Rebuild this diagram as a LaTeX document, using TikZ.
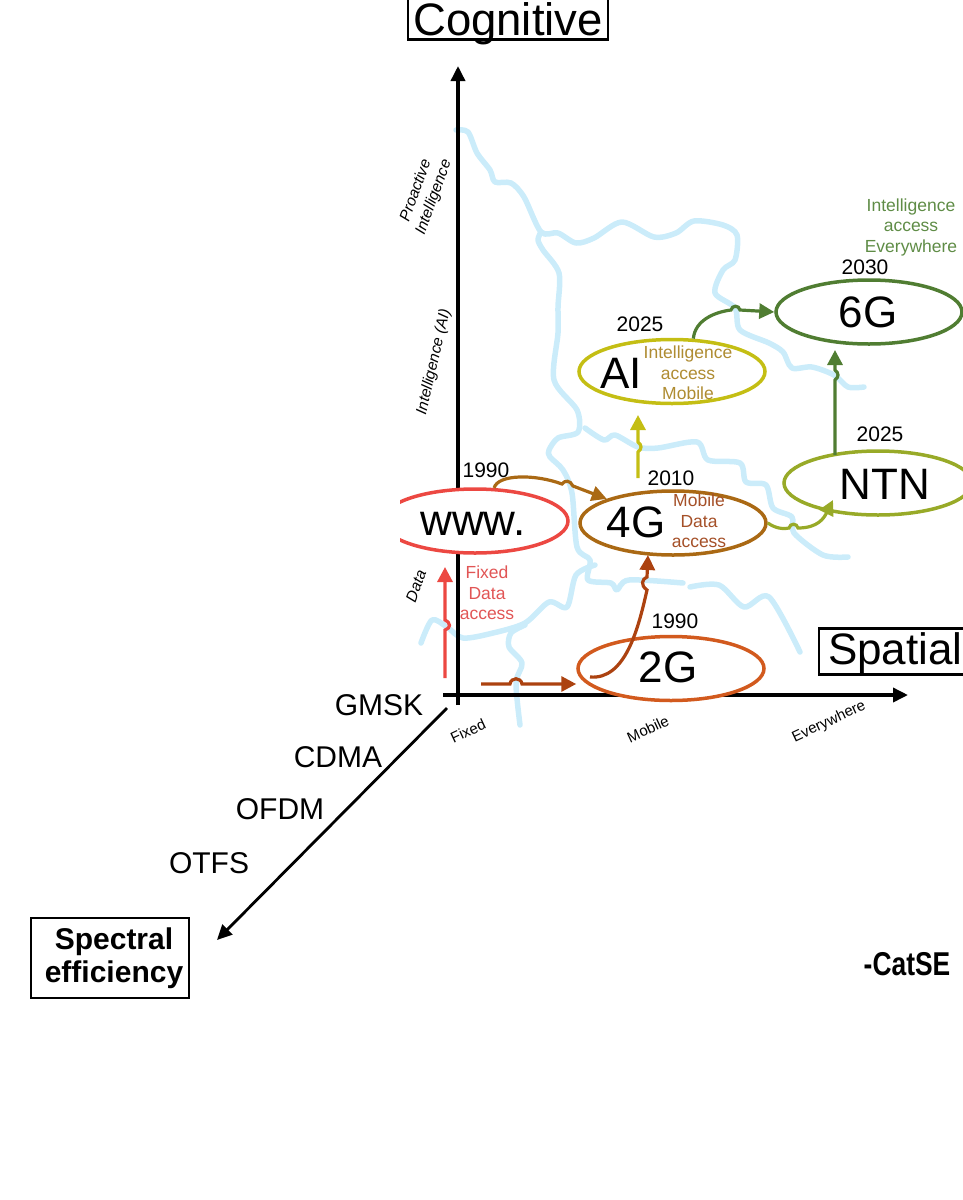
\documentclass[tikz,border=0pt]{standalone}
\usepackage{fontspec}
\setmainfont{Liberation Sans}
\usetikzlibrary{arrows.meta, positioning, shapes.geometric}
\definecolor{rivercol}{RGB}{203,236,250}
\definecolor{wwwcol}{RGB}{236,72,66}
\definecolor{fourgcol}{RGB}{170,105,20}
\definecolor{twogcol}{RGB}{210,90,30}
\definecolor{aicol}{RGB}{196,190,20}
\definecolor{sixgcol}{RGB}{80,125,50}
\definecolor{ntncol}{RGB}{152,170,40}
\definecolor{hopcol}{RGB}{172,66,16}
\definecolor{fixedtxt}{RGB}{225,85,85}
\definecolor{mobiletxt}{RGB}{165,80,40}
\definecolor{aitxt}{RGB}{175,140,50}
\definecolor{evertxt}{RGB}{95,140,70}

\begin{document}
\begin{tikzpicture}[
    x=1pt, y=-1pt,
    river/.style={draw=rivercol, line width=5.5pt, line cap=round, line join=round},
    axis/.style={-{Triangle[length=15pt,width=14pt]}, line width=3.5pt},
    gen/.style={draw, ellipse, line width=3.5pt, fill=white, minimum width=186pt,
                minimum height=64pt, inner sep=0pt, font=\fontsize{44}{46}\selectfont},
    arrow/.style={-{Triangle[length=15pt,width=15pt]}, line width=3.2pt},
    year/.style={font=\fontsize{21}{23}\selectfont, inner sep=0pt},
    big/.style={font=\fontsize{44}{46}\selectfont, inner sep=0pt},
    note/.style={font=\fontsize{17.5}{20.5}\selectfont, align=center, inner sep=0pt},
    tick/.style={font=\fontsize{15.5}{19}\selectfont\itshape, align=center, inner sep=0pt},
    flat/.style={font=\fontsize{15}{17}\selectfont, inner sep=0pt, rotate=25},
    wave/.style={font=\fontsize{30}{32}\selectfont, inner sep=0pt},
    title/.style={draw, line width=2.2pt, font=\fontsize{45.5}{48}\selectfont, inner xsep=5pt,
                  inner ysep=2pt}
  ]
  \useasboundingbox (0,0) rectangle (962,1200);

  \draw[river] plot[smooth, tension=.5] coordinates {(456,130) (468,132) (477,153) (490,170) (495,182) (511,183) (524,197) (541,232) (558,233) (576,243) (594,238) (622,222) (654,237) (676,233) (694,221) (723,225) (737,235) (735,260) (723,270) (715,293) (735,308) (740,330) (769,343) (783,352) (792,368) (812,367) (834,375) (848,387) (864,387)};
  \draw[river] plot[smooth, tension=.5] coordinates {(541,232) (538,240) (543,250) (559,273) (558,307) (558,333) (554,380) (577,410) (578,432) (558,438) (549,450) (550,457) (563,470) (572,493) (577,547) (590,560) (588,580) (611,583) (617,590) (629,580) (683,583)};
  \draw[river] plot[smooth, tension=.5] coordinates {(690,587) (719,585) (744,607) (769,597) (800,652)};
  \draw[river] plot[smooth, tension=.5] coordinates {(585,428) (604,440) (615,435) (638,447) (658,448) (697,442) (708,460) (740,463) (746,482) (766,485) (773,508) (792,517) (794,533) (823,555) (848,557)};
  \draw[river] plot[smooth, tension=.5] coordinates {(595,565) (576,575) (567,607) (549,602) (525,623) (493,633) (463,638) (447,627) (432,620) (421,643)};
  \draw[river] plot[smooth, tension=.5] coordinates {(525,625) (511,633) (509,647) (522,663) (516,683) (520,725)};

  \coordinate (origin) at (458,705);
  \coordinate (cogtip) at (458,66);
  \coordinate (spatstart) at (443,695);
  \coordinate (spattip) at (908,695);
  \coordinate (specstart) at (447,708);
  \coordinate (spectip) at (217,940);
  \draw[axis] (origin) -- (cogtip);
  \draw[axis] (spatstart) -- (spattip);
  \draw[axis, line width=2.8pt] (specstart) -- (spectip);

  \begin{scope}
    \clip (400,0) rectangle (962,1200);
    \node[gen, draw=wwwcol] (www) at (475,521) {};
  \end{scope}
  \node[big] (wwwtxt) at (473,524) {www.};
  \node[gen, draw=fourgcol] (fourg) at (673,523) {};
  \node[gen, draw=twogcol, below=78pt of fourg, xshift=-2pt] (twog) {};
  \node[gen, draw=aicol, above=84pt of fourg, xshift=-1pt] (ai) {};
  \node[gen, draw=sixgcol] (sixg) at (869,312) {};
  \node[gen, draw=ntncol, minimum width=188pt] (ntn) at (878,483) {};

  \node[big] (fourgtxt) at (636,522) {4G};
  \node[big] (twogtxt) at (668,667) {2G};
  \node[big] (aitxt) at (621,373) {AI};
  \node[big] (sixgtxt) at (868,312) {6G};
  \node[big] (ntntxt) at (885,484) {NTN};

  \coordinate (fixedstart) at (445,678);
  \coordinate (fixedtip) at (445,567);
  \coordinate (mobstart) at (481,684);
  \coordinate (aistart) at (638,478);
  \coordinate (aitip) at (638,415);
  \coordinate (twostart) at (590,677);
  \coordinate (fourtip) at (648,555);
  \coordinate (ntnstart) at (835,455);
  \coordinate (sixtip) at (835,350);
  \coordinate (ntntip) at (833,500);

  \draw[arrow, wwwcol] (fixedstart) -- (445,630) .. controls (451,628) and (451,623) .. (445,620) -- (fixedtip);
  \draw[arrow, hopcol] (mobstart) -- (510,684) .. controls (511,677) and (521,677) .. (522,684) -- (twog.west |- mobstart);
  \draw[arrow, hopcol] (twostart) .. controls (625,680) and (638,630) .. (647,590) .. controls (640,585) and (642,579) .. (647,577) -- (fourtip);
  \draw[arrow, fourgcol] (www.60) .. controls (498,474) and (535,474) .. (562,484) .. controls (565,480) and (570,480) .. (573,486) -- (fourg.160);
  \draw[arrow, aicol] (aistart) -- (638,452) .. controls (642,449) and (642,445) .. (638,442) -- (aitip);
  \draw[arrow, ntncol] (fourg.east) .. controls (772,526) and (780,530) .. (789,528) .. controls (790,523) and (797,523) .. (798,528) .. controls (818,528) and (824,518) .. (ntntip);
  \draw[arrow, sixgcol] (ntnstart) -- (835,380) .. controls (839,377) and (839,373) .. (835,370) -- (sixtip);
  \draw[arrow, sixgcol] (ai.57) .. controls (695,320) and (715,312) .. (731,310) .. controls (732,305) and (739,305) .. (740,310) -- (sixg.west);

  \node[year] (y1990a) at (486,470) {1990};
  \node[year] (y2010) at (671,478) {2010};
  \node[year] (y1990b) at (675,621) {1990};
  \node[year] (y2025a) at (640,324) {2025};
  \node[year] (y2025b) at (880,434) {2025};
  \node[year] (y2030) at (865,267) {2030};

  \node[note, text=fixedtxt] (fixednote) at (487,593) {Fixed\\Data\\access};
  \node[note, text=mobiletxt] (mobnote) at (699,521) {Mobile\\Data\\access};
  \node[note, text=aitxt] (ainote) at (688,373) {Intelligence\\access\\Mobile};
  \node[note, text=evertxt] (evernote) at (911,227) {Intelligence\\access\\Everywhere};

  \node[tick, rotate=70] (proactive) at (425,194) {Proactive\\Intelligence};
  \node[tick, rotate=77] (intel) at (434,362) {Intelligence (AI)};
  \node[tick, rotate=70] (data) at (416,586) {Data};
  \node[flat] (fixed) at (468,731) {Fixed};
  \node[flat] (mobile) at (648,729) {Mobile};
  \node[flat] (every) at (829,722) {Everywhere};

  \node[wave] (gmsk) at (379,705) {GMSK};
  \node[wave] (cdma) at (338,757) {CDMA};
  \node[wave] (ofdm) at (280,809) {OFDM};
  \node[wave] (otfs) at (209,863) {OTFS};

  \node[title, text height=35pt, text depth=2pt] (cognitive) at (508,19) {Cognitive};
  \node[title, anchor=west, font=\fontsize{44}{46}\selectfont, inner xsep=9pt, inner ysep=3pt, text height=33pt, text depth=7pt] (spatial) at (818,651.5) {Spatial};
  \node[title, font=\fontsize{30}{33}\selectfont\bfseries, align=center, minimum width=158pt, minimum height=80pt] (spectral) at (110,958) {\hspace*{8pt}Spectral\\\hspace*{8pt}efficiency};

  \node[font=\fontsize{33}{35}\selectfont\bfseries, xscale=.8, transform shape, inner sep=0pt] (catse) at (907,964) {-CatSE};
\end{tikzpicture}
\end{document}
